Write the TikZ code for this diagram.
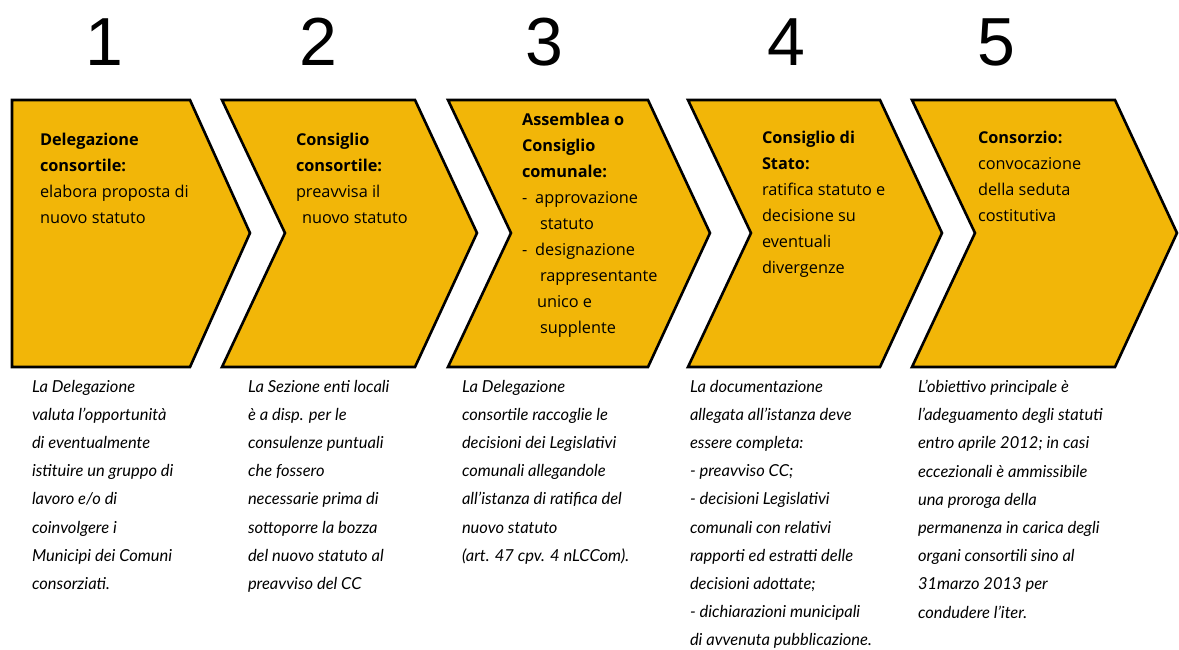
\documentclass[tikz,border=0pt]{standalone}
\usepackage{fontspec}
\setmainfont{Lato}
\newfontfamily\numfont{Liberation Sans}
\newfontfamily\boxfont{Open Sans}
\definecolor{chevronfill}{RGB}{242,182,8}

\begin{document}
\begin{tikzpicture}
  [x=1pt,y=-1pt,every node/.style={inner sep=0pt,outer sep=0pt},
   chevron/.style={draw=black,line width=2.6pt,line join=miter,fill=chevronfill},
   steptext/.style={anchor=north west,align=left,font=\boxfont\fontsize{16.3}{26}\selectfont},
   notetext/.style={anchor=north west,align=left,font=\itshape\fontsize{16.5}{28.2}\selectfont},
   stepnum/.style={font=\numfont\fontsize{68}{68}\selectfont}]
  \useasboundingbox (0,0) rectangle (1179,650);

  % chevrons
  \draw[chevron] (12,100) -- (190,100) -- (250,233) -- (190,367) -- (12,367) -- cycle;
  \foreach \l/\r in {222/415,448/648,688/880,912/1115}
    \draw[chevron] (\l,100) -- (\r,100) -- (\r+62,233) -- (\r,367)
      -- (\l,367) -- (\l+63,233) -- cycle;

  % numbers
  \node[stepnum] (n1) at (104,42) {1};
  \node[stepnum] (n2) at (318,42) {2};
  \node[stepnum] (n3) at (544,42) {3};
  \node[stepnum] (n4) at (786,42) {4};
  \node[stepnum] (n5) at (996,42) {5};

  % texts in the chevrons
  \node[steptext] (s1) at (40,133) {\textbf{Delegazione}\\\textbf{consortile:}\\elabora proposta di\\nuovo statuto};
  \node[steptext] (s2) at (296,133) {\textbf{Consiglio}\\\textbf{consortile:}\\preavvisa il\\\hspace*{6pt}nuovo statuto};
  \node[steptext] (s3) at (522,113) {\textbf{Assemblea o}\\\textbf{Consiglio}\\\textbf{comunale:}\\-\hspace{8pt}approvazione\\\hspace*{18pt}statuto\\-\hspace{8pt}designazione\\\hspace*{18pt}rappresentante\\\hspace*{15pt}unico e\\\hspace*{18pt}supplente};
  \node[steptext] (s4) at (762,131) {\textbf{Consiglio di}\\\textbf{Stato:}\\ratifica statuto e\\decisione su\\eventuali\\divergenze};
  \node[steptext] (s5) at (978,131) {\textbf{Consorzio:}\\convocazione\\della seduta\\costitutiva};

  % notes below
  \node[notetext] (t1) at (32,380) {La Delegazione\\valuta l’opportunità\\di eventualmente\\istituire un gruppo di\\lavoro e/o di\\coinvolgere i\\Municipi dei Comuni\\consorziati.};
  \node[notetext] (t2) at (248,380) {La Sezione enti locali\\è a disp. per le\\consulenze puntuali\\che fossero\\necessarie prima di\\sottoporre la bozza\\del nuovo statuto al\\preavviso del CC};
  \node[notetext] (t3) at (462,380) {La Delegazione\\consortile raccoglie le\\decisioni dei Legislativi\\comunali allegandole\\all’istanza di ratifica del\\nuovo statuto\\(art. 47 cpv. 4 nLCCom).};
  \node[notetext] (t4) at (690,380) {La documentazione\\allegata all’istanza deve\\essere completa:\\- preavviso CC;\\- decisioni Legislativi\\comunali con relativi\\rapporti ed estratti delle\\decisioni adottate;\\- dichiarazioni municipali\\di avvenuta pubblicazione.};
  \node[notetext] (t5) at (918,380) {L’obiettivo principale è\\l’adeguamento degli statuti\\entro aprile 2012; in casi\\eccezionali è ammissibile\\una proroga della\\permanenza in carica degli\\organi consortili sino al\\31marzo 2013 per\\condudere l’iter.};
\end{tikzpicture}
\end{document}
